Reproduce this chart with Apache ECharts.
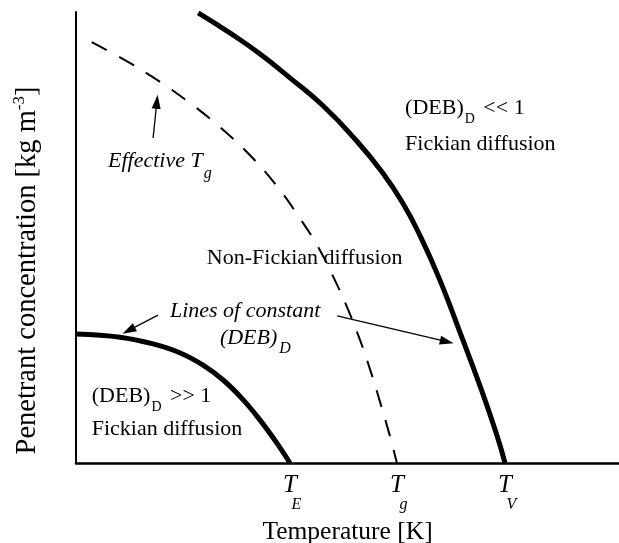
<!DOCTYPE html>
<html>
<head>
<meta charset="utf-8">
<script src="https://cdn.jsdelivr.net/npm/echarts@6/dist/echarts.min.js"></script>
<style>html,body{margin:0;padding:0;background:#fff}#c{width:619px;height:543px}</style>
</head>
<body>
<div id="c"></div>
<script>
// Line of constant (DEB)_D, lower (ends at T_E)
const lowerCurve = [[0,28.6],[8.1,27.9],[14.2,26.4],[19.2,24.4],[23.4,21.7],[27.1,18.4],[30.8,14.0],[33.9,9.5],[37.0,4.4],[39.4,0]];
// Effective Tg (dashed)
const effectiveTg = [[2.9,93.3],[9.9,88.7],[15.5,84.5],[21.0,79.8],[26.5,74.5],[32.0,68.3],[37.0,61.4],[41.1,54.5],[44.4,48.3],[47.3,41.5],[49.9,34.6],[52.3,27.3],[54.3,20.2],[56.0,13.5],[57.6,6.9],[59.1,0]];
// Line of constant (DEB)_D, upper (ends at T_V)
const upperCurve = [[22.5,99.8],[28.4,95.3],[33.9,90.7],[39.4,85.4],[45.5,79.2],[51.7,71.4],[56.5,64.3],[60.2,57.6],[63.4,50.3],[67.0,40.6],[70.7,29.0],[74.4,17.1],[77.5,6.2],[79.0,0]];
// x-axis tick positions and subscripts
const tickValues = [39.4, 59.1, 79.0];
const tickSubs = ['E', 'g', 'V'];
// Arrows [tail, tip]
const arrows = [
  [[14.2,72.1],[14.9,80.1]],
  [[15.1,32.8],[9.7,29.4]],
  [[48.1,32.6],[68.3,26.9]]
];
// Annotations: [x, y, rich text]
const annotations = [
  [60.6, 78.6, '{n|(DEB)}{sub|D}{n| << 1}'],
  [60.6, 70.7, '{n|Fickian diffusion}'],
  [24.1, 45.4, '{n|Non-Fickian diffusion}'],
  [17.3, 33.6, '{i|Lines of constant}'],
  [26.5, 27.6, '{i|(DEB)}{isubB|D}'],
  [2.9, 14.8, '{n|(DEB)}{sub|D}{n| >> 1}'],
  [2.9, 7.4, '{n|Fickian diffusion}'],
  [5.9, 66.9, '{i|Effective T}{isubA|g}']
];

const F = '"Liberation Serif", "Times New Roman", serif';
const rich = {
  n: {fontFamily: F, fontSize: 22, color: '#000'},
  sub: {fontFamily: F, fontSize: 14, color: '#000', padding: [22, 3, 0, 1]},
  i: {fontFamily: F, fontSize: 22, fontStyle: 'italic', color: '#000'},
  isubA: {fontFamily: F, fontSize: 16, fontStyle: 'italic', color: '#000', padding: [26, 0, 0, 1]},
  isubB: {fontFamily: F, fontSize: 16, fontStyle: 'italic', color: '#000', padding: [20, 0, 0, 2]}
};

const chart = echarts.init(document.getElementById('c'), null, {renderer: 'canvas'});
chart.setOption({
  animation: false,
  backgroundColor: '#fff',
  grid: {left: 76, right: 0, top: 12, bottom: 80, containLabel: false, outerBoundsMode: 'none'},
  xAxis: {
    type: 'value', min: 0, max: 100,
    axisLine: {show: true, lineStyle: {color: '#000', width: 2.5}},
    axisTick: {show: false},
    splitLine: {show: false},
    axisLabel: {
      customValues: tickValues,
      margin: 10,
      formatter: function (v) {
        const idx = tickValues.findIndex(t => Math.abs(t - v) < 0.01);
        return idx < 0 ? '' : '{t|T}\n{s|' + tickSubs[idx] + '}';
      },
      rich: {
        t: {fontFamily: F, fontSize: 25, lineHeight: 24, fontStyle: 'italic', color: '#000'},
        s: {fontFamily: F, fontSize: 16, lineHeight: 16, fontStyle: 'italic', color: '#000', padding: [0, 0, 0, 13]}
      }
    },
    name: 'Temperature [K]',
    nameLocation: 'middle',
    nameGap: 56,
    nameTextStyle: {fontFamily: F, fontSize: 25.5, color: '#000'}
  },
  yAxis: {
    type: 'value', min: 0, max: 100,
    axisLine: {show: true, lineStyle: {color: '#000', width: 2}},
    axisTick: {show: false},
    splitLine: {show: false},
    axisLabel: {show: false},
    name: '{a|Penetrant concentration [kg m}{sup|-3}{a|]}',
    nameLocation: 'middle',
    nameGap: 32,
    nameTextStyle: {
      padding: [0, 66, 0, 0],
      rich: {
        a: {fontFamily: F, fontSize: 28.5, color: '#000'},
        sup: {fontFamily: F, fontSize: 17, color: '#000', padding: [0, 0, 16, 0]}
      }
    }
  },
  series: [
    {type: 'line', data: lowerCurve, smooth: 0.4, showSymbol: false, silent: true,
     lineStyle: {color: '#000', width: 5}},
    {type: 'line', data: effectiveTg, smooth: 0.4, showSymbol: false, silent: true,
     lineStyle: {color: '#000', width: 2, type: [17, 14]}},
    {type: 'line', data: upperCurve, smooth: 0.5, showSymbol: false, silent: true,
     lineStyle: {color: '#000', width: 5},
     markLine: {
       silent: true, symbol: ['none', 'triangle'], symbolSize: [9, 14],
       label: {show: false},
       lineStyle: {color: '#000', width: 1.3, type: 'solid'},
       data: arrows.map(a => [{coord: a[0]}, {coord: a[1]}])
     }},
    {type: 'scatter', silent: true, symbolSize: 0,
     itemStyle: {opacity: 1},
     data: annotations.map(a => ({value: [a[0], a[1]], label: {formatter: a[2]}})),
     label: {show: true, position: 'right', distance: 0, color: '#000', opacity: 1, rich: rich}}
  ]
});
</script>
</body>
</html>
